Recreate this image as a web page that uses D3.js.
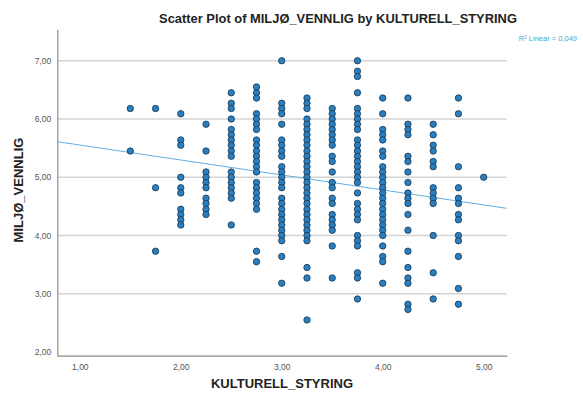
<!DOCTYPE html>
<html>
<head>
<meta charset="utf-8">
<script src="https://cdn.jsdelivr.net/npm/d3@7"></script>
<style>
  body { margin: 0; background: #fff; }
  svg { display: block; font-family: Arial, "Liberation Sans", sans-serif; }
</style>
</head>
<body>
<div class="svg-container"></div>
<script>
// x levels of KULTURELL_STYRING and the MILJØ_VENNLIG values seen at each level
const kulturLevels = [1.5, 1.75, 2.0, 2.25, 2.5, 2.75, 3.0, 3.25, 3.5, 3.75, 4.0, 4.25, 4.5, 4.75, 5.0];
const miljo_150 = [6.18, 5.45];
const miljo_175 = [6.18, 4.82, 3.73];
const miljo_200 = [6.09, 5.64, 5.55, 5.00, 4.82, 4.73, 4.45, 4.36, 4.27, 4.18];
const miljo_225 = [5.91, 5.45, 5.09, 5.00, 4.91, 4.82, 4.64, 4.55, 4.45, 4.36];
const miljo_250 = [6.45, 6.27, 6.18, 6.00, 5.82, 5.73, 5.64, 5.55, 5.45, 5.36, 5.09, 5.00, 4.91, 4.82, 4.73, 4.64, 4.18];
const miljo_275 = [6.55, 6.45, 6.36, 6.09, 6.00, 5.91, 5.82, 5.64, 5.55, 5.45, 5.36, 5.27, 5.18, 5.09, 4.91, 4.82, 4.73, 4.64, 4.55, 4.45, 3.73, 3.55];
const miljo_300 = [7.00, 6.27, 6.18, 6.09, 5.91, 5.64, 5.55, 5.45, 5.36, 5.18, 5.09, 5.00, 4.91, 4.82, 4.64, 4.55, 4.45, 4.36, 4.27, 4.18, 4.09, 4.00, 3.91, 3.64, 3.18];
const miljo_325 = [6.36, 6.27, 6.18, 6.00, 5.91, 5.82, 5.73, 5.64, 5.55, 5.45, 5.36, 5.27, 5.18, 5.09, 5.00, 4.91, 4.82, 4.73, 4.64, 4.55, 4.45, 4.36, 4.27, 4.18, 4.09, 4.00, 3.91, 3.45, 3.27, 2.55];
const miljo_350 = [6.18, 6.09, 6.00, 5.91, 5.82, 5.73, 5.64, 5.55, 5.36, 5.27, 5.09, 4.91, 4.82, 4.64, 4.55, 4.36, 4.27, 4.18, 4.09, 3.82, 3.27];
const miljo_375 = [7.00, 6.82, 6.73, 6.45, 6.18, 6.09, 6.00, 5.91, 5.82, 5.64, 5.55, 5.45, 5.36, 5.27, 5.18, 5.09, 5.00, 4.91, 4.73, 4.55, 4.45, 4.36, 4.27, 4.00, 3.91, 3.82, 3.36, 3.27, 2.91];
const miljo_400 = [6.36, 6.09, 5.82, 5.73, 5.64, 5.45, 5.36, 5.18, 5.09, 5.00, 4.91, 4.82, 4.73, 4.64, 4.55, 4.45, 4.36, 4.27, 4.18, 4.09, 4.00, 3.82, 3.64, 3.55, 3.18];
const miljo_425 = [6.36, 5.91, 5.82, 5.73, 5.36, 5.27, 5.09, 4.91, 4.73, 4.64, 4.55, 4.36, 4.09, 3.73, 3.45, 3.27, 3.18, 2.82, 2.73];
const miljo_450 = [5.91, 5.73, 5.55, 5.45, 5.27, 5.18, 4.82, 4.73, 4.64, 4.55, 4.00, 3.36, 2.91];
const miljo_475 = [6.36, 6.09, 5.18, 4.82, 4.64, 4.55, 4.36, 4.27, 4.00, 3.91, 3.64, 3.09, 2.82];
const miljo_500 = [5.00];

const xTicks = [1, 2, 3, 4, 5];
const yTicks = [2, 3, 4, 5, 6, 7];
// fit line
const fitIntercept = 5.81;
const fitSlope = -0.257;
const rSquared = 0.049;

const columns = [miljo_150, miljo_175, miljo_200, miljo_225, miljo_250, miljo_275, miljo_300,
  miljo_325, miljo_350, miljo_375, miljo_400, miljo_425, miljo_450, miljo_475, miljo_500];
let points = [];
columns.forEach(function(col, i){
  col.forEach(function(v){ points.push({x: kulturLevels[i], y: v}); });
});

const width = 583, height = 398;
const fmt = d => d3.format(".2f")(d).replace(".", ",");

let svg = d3.select(".svg-container")
  .append("svg")
  .attr("width", width)
  .attr("height", height);

let xScale = d3.scaleLinear().domain([0.777, 5.228]).range([57.3, 506.7]);
let yScale = d3.scaleLinear().domain([1.936, 7.54]).range([355.7, 29.3]);

// gridlines
svg.append("g")
  .selectAll("line")
  .data(yTicks.filter(d => d > 2))
  .enter().append("line")
  .attr("x1", xScale.range()[0])
  .attr("x2", xScale.range()[1])
  .attr("y1", d => yScale(d))
  .attr("y2", d => yScale(d))
  .attr("stroke", "#d4d4d4")
  .attr("stroke-width", 1.3);

// y axis
let gYaxis = svg.append("g")
  .attr("transform", "translate(" + xScale.range()[0] + ",0)")
  .call(d3.axisLeft(yScale).tickValues(yTicks).tickSize(0).tickPadding(6).tickFormat(fmt));
gYaxis.select(".domain").attr("stroke", "#8c8c8c").attr("stroke-width", 1.2);
gYaxis.selectAll("text").attr("font-size", "8.5px").attr("fill", "#555")
  .attr("font-family", "Arial, 'Liberation Sans', sans-serif");

// x axis
let gXaxis = svg.append("g")
  .attr("transform", "translate(0," + yScale.range()[0] + ")")
  .call(d3.axisBottom(xScale).tickValues(xTicks).tickSize(0).tickPadding(8).tickFormat(fmt));
gXaxis.select(".domain").attr("stroke", "#8c8c8c").attr("stroke-width", 1.2);
gXaxis.selectAll("text").attr("font-size", "8.5px").attr("fill", "#555")
  .attr("font-family", "Arial, 'Liberation Sans', sans-serif");

// fit line
const xd = xScale.domain();
svg.append("line")
  .attr("x1", xScale(xd[0]))
  .attr("y1", yScale(fitIntercept + fitSlope * xd[0]))
  .attr("x2", xScale(xd[1]))
  .attr("y2", yScale(fitIntercept + fitSlope * xd[1]))
  .attr("stroke", "#62b0e3")
  .attr("stroke-width", 1);

// points
svg.append("g")
  .selectAll("circle")
  .data(points)
  .enter().append("circle")
  .attr("cx", d => xScale(d.x))
  .attr("cy", d => yScale(d.y))
  .attr("r", 3.2)
  .attr("fill", "#2a7fc0")
  .attr("stroke", "#163650")
  .attr("stroke-width", 0.8);

// titles
svg.append("text")
  .attr("x", 338)
  .attr("y", 23)
  .attr("text-anchor", "middle")
  .attr("font-size", "12.9px")
  .attr("font-weight", "bold")
  .attr("fill", "#222")
  .text("Scatter Plot of MILJØ_VENNLIG by KULTURELL_STYRING");

svg.append("text")
  .attr("x", 577)
  .attr("y", 41)
  .attr("text-anchor", "end")
  .attr("font-size", "7.5px")
  .attr("fill", "#4aa3dc")
  .text("R² Linear = " + d3.format(".3f")(rSquared).replace(".", ","));

svg.append("text")
  .attr("x", (xScale.range()[0] + xScale.range()[1]) / 2)
  .attr("y", 388)
  .attr("text-anchor", "middle")
  .attr("font-size", "13px")
  .attr("font-weight", "bold")
  .attr("fill", "#222")
  .text("KULTURELL_STYRING");

svg.append("text")
  .attr("transform", "translate(23,190) rotate(-90)")
  .attr("text-anchor", "middle")
  .attr("font-size", "13px")
  .attr("font-weight", "bold")
  .attr("fill", "#222")
  .text("MILJØ_VENNLIG");
</script>
</body>
</html>
